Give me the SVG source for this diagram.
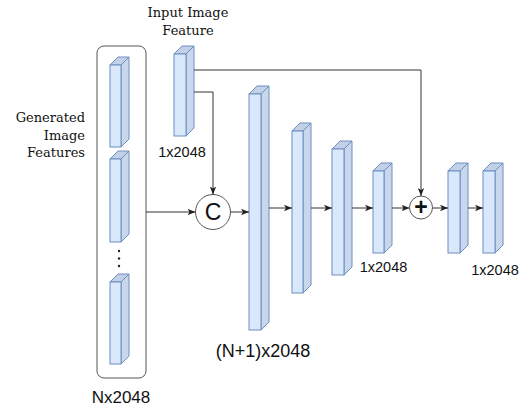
<svg xmlns="http://www.w3.org/2000/svg" width="531" height="409" viewBox="0 0 531 409">
<defs>
<marker id="ah" viewBox="0 0 8 8" refX="8" refY="4" markerWidth="8" markerHeight="8" markerUnits="userSpaceOnUse" orient="auto">
<path d="M0,0.8 L8,4 L0,7.2 L2,4 Z" fill="#222"/>
</marker>
<style>
.front{fill:#dae8fc;stroke:#6c8ebf;stroke-width:1}
.side{fill:#c9d7ec;stroke:#6c8ebf;stroke-width:1;stroke-linejoin:round}
.top{fill:#c3d1e8;stroke:#6c8ebf;stroke-width:1;stroke-linejoin:round}
.conn{fill:none;stroke:#333;stroke-width:1}
.serif{font-family:"DejaVu Serif","Liberation Serif",serif;font-size:13px;fill:#111}
.sans{font-family:"Liberation Sans",Arial,sans-serif;fill:#111}
.op{fill:#fff;stroke:#555;stroke-width:1}
</style>
</defs>
<rect width="531" height="409" fill="#fff"/>

<g id="container">
<rect x="97" y="46" width="49" height="332" rx="7" fill="none" stroke="#555" stroke-width="1"/>
</g>

<g id="gen1">
<polygon class="top" points="110,65 118,57 129,57 121,65"/>
<polygon class="side" points="121,65 129,57 129,139 121,147"/>
<rect class="front" x="110" y="65" width="11" height="82"/>
</g>
<g id="gen2">
<polygon class="top" points="110,159 118,151 129,151 121,159"/>
<polygon class="side" points="121,159 129,151 129,234 121,242"/>
<rect class="front" x="110" y="159" width="11" height="83"/>
</g>
<g id="dots">
<circle cx="119" cy="251" r="1.2" fill="#222"/>
<circle cx="119" cy="258.5" r="1.2" fill="#222"/>
<circle cx="119" cy="266" r="1.2" fill="#222"/>
</g>
<g id="gen3">
<polygon class="top" points="110,282 118,274 129,274 121,282"/>
<polygon class="side" points="121,282 129,274 129,356 121,364"/>
<rect class="front" x="110" y="282" width="11" height="82"/>
</g>

<g id="input">
<polygon class="top" points="174,54 182,46 194,46 186,54"/>
<polygon class="side" points="186,54 194,46 194,128 186,136"/>
<rect class="front" x="174" y="54" width="12" height="82"/>
</g>

<g id="b1">
<polygon class="top" points="249,94 257,86 269,86 261,94"/>
<polygon class="side" points="261,94 269,86 269,322 261,330"/>
<rect class="front" x="249" y="94" width="12" height="236"/>
</g>
<g id="b2">
<polygon class="top" points="292,131 300,123 311,123 303,131"/>
<polygon class="side" points="303,131 311,123 311,285 303,293"/>
<rect class="front" x="292" y="131" width="11" height="162"/>
</g>
<g id="b3">
<polygon class="top" points="332,149 340,141 352,141 344,149"/>
<polygon class="side" points="344,149 352,141 352,267 344,275"/>
<rect class="front" x="332" y="149" width="12" height="126"/>
</g>
<g id="b4">
<polygon class="top" points="373,171 381,163 392,163 384,171"/>
<polygon class="side" points="384,171 392,163 392,245 384,253"/>
<rect class="front" x="373" y="171" width="11" height="82"/>
</g>
<g id="b5">
<polygon class="top" points="448,171 456,163 468,163 460,171"/>
<polygon class="side" points="460,171 468,163 468,245 460,253"/>
<rect class="front" x="448" y="171" width="12" height="82"/>
</g>
<g id="b6">
<polygon class="top" points="483,171 491,163 503,163 495,171"/>
<polygon class="side" points="495,171 503,163 503,245 495,253"/>
<rect class="front" x="483" y="171" width="12" height="82"/>
</g>

<g id="concat">
<circle class="op" cx="213" cy="212" r="17.5"/>
<text class="sans" x="213" y="220" font-size="23" text-anchor="middle">C</text>
</g>
<g id="add">
<circle class="op" cx="421" cy="207.5" r="11.5"/>
<text class="sans" x="421" y="215" font-size="23" font-weight="bold" text-anchor="middle">+</text>
</g>

<g id="connectors">
<path class="conn" d="M146,212 H195.5" marker-end="url(#ah)"/>
<path class="conn" d="M194,92 H213 V194.5" marker-end="url(#ah)"/>
<path class="conn" d="M194,70 H421 V196" marker-end="url(#ah)"/>
<path class="conn" d="M230.5,212 H249" marker-end="url(#ah)"/>
<path class="conn" d="M269,208 H292" marker-end="url(#ah)"/>
<path class="conn" d="M311,208 H332" marker-end="url(#ah)"/>
<path class="conn" d="M352,208 H373" marker-end="url(#ah)"/>
<path class="conn" d="M392,208 H409.5" marker-end="url(#ah)"/>
<path class="conn" d="M432.5,208 H448" marker-end="url(#ah)"/>
<path class="conn" d="M468,208 H483" marker-end="url(#ah)"/>
</g>

<g id="labels">
<text class="serif" x="188" y="17" text-anchor="middle">Input Image</text>
<text class="serif" x="188" y="35" text-anchor="middle">Feature</text>
<text class="serif" x="85" y="122" text-anchor="end">Generated</text>
<text class="serif" x="85" y="139.5" text-anchor="end">Image</text>
<text class="serif" x="85" y="157" text-anchor="end">Features</text>
<text class="sans" x="182" y="157" font-size="14.5" text-anchor="middle">1x2048</text>
<text class="sans" x="383.5" y="272" font-size="14.5" text-anchor="middle">1x2048</text>
<text class="sans" x="495" y="275" font-size="14.5" text-anchor="middle">1x2048</text>
<text class="sans" x="263" y="357" font-size="18" text-anchor="middle">(N+1)x2048</text>
<text class="sans" x="121" y="403" font-size="17" text-anchor="middle">Nx2048</text>
</g>
</svg>
